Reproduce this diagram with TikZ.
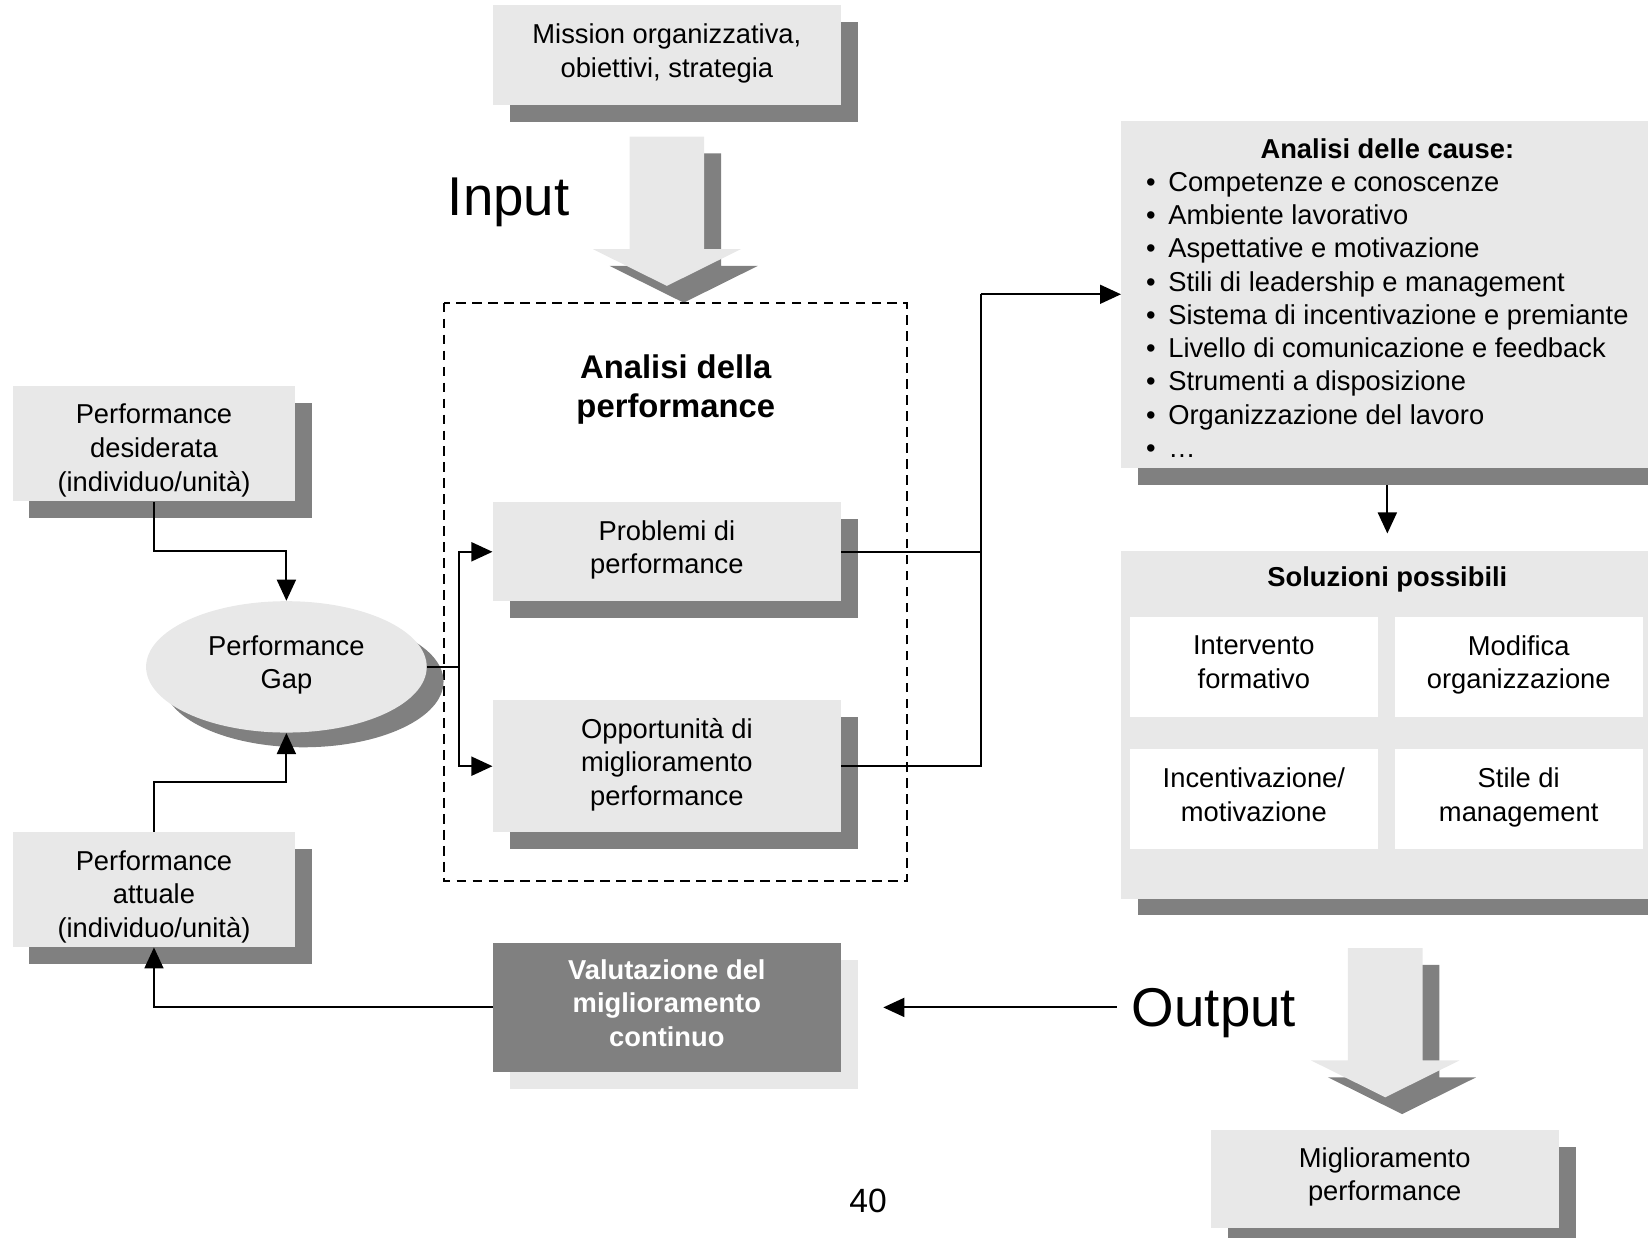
\documentclass[tikz,border=0pt]{standalone}
\usepackage{fontspec}
\setmainfont{Liberation Sans}
\usetikzlibrary{shapes.geometric,arrows.meta,shadows,calc}
\definecolor{boxgray}{HTML}{E8E8E8}
\definecolor{shadegray}{HTML}{808080}

\tikzset{
  base/.style={font=\fontsize{13}{16}\selectfont, align=center, inner sep=0pt},
  % fixed depth below the last line so that the text sits evenly in every box
  evenlines/.style={execute at end node={\rule[-4.4pt]{0pt}{4.4pt}}},
  % extra height above the last line, which lowers three-line texts in their box
  lowlines/.style={execute at begin node={\rule{0pt}{49.7pt}}},
  card/.style={base, evenlines, rectangle, fill=boxgray,
    drop shadow={shadow xshift=8pt, shadow yshift=-8pt, fill=shadegray, opacity=1}},
  darkcard/.style={base, evenlines, rectangle, fill=shadegray, text=white,
    font=\fontsize{13}{16}\selectfont\bfseries,
    drop shadow={shadow xshift=8pt, shadow yshift=-8pt, fill=boxgray, opacity=1}},
  whitecard/.style={base, evenlines, rectangle, fill=white},
  line/.style={line width=0.95pt, black},
  conn/.style={line, -{Triangle[length=10pt,width=9pt]}},
  dashbox/.style={line width=0.95pt, dash pattern=on 4.6pt off 3pt},
  bigword/.style={font=\fontsize{26}{30}\selectfont, inner sep=0pt},
  blockarrow/.pic={
    \fill[shadegray, shift={(16,16)}] (-35.5,0) -- (35.5,0) -- (35.5,107) -- (70.5,107)
      -- (0,142) -- (-70.5,107) -- (-35.5,107) -- cycle;
    \fill[boxgray] (-35.5,0) -- (35.5,0) -- (35.5,107) -- (70.5,107)
      -- (0,142) -- (-70.5,107) -- (-35.5,107) -- cycle;
  },
}

\begin{document}
\begin{tikzpicture}[x=0.5pt,y=-0.5pt]
\useasboundingbox (0,0) rectangle (1568,1177);
\clip (0,0) rectangle (1568,1177);

% wide block arrows for input and output
\pic at (634.5,130) {blockarrow};
\pic at (1318,902) {blockarrow};

% top input box
\node[card, minimum width=165.5pt, minimum height=47.5pt] (mission) at (634.5,52.5)
  {Mission organizzativa,\\obiettivi, strategia};
\node[bigword, anchor=base] (inlabel) at (484,205) {Input};

% performance analysis frame
\draw[dashbox] (422,288) rectangle (863,838);
\node[base, font=\fontsize{15.6}{18.5}\selectfont\bfseries] (anatitle) at (643,371)
  {Analisi della\\performance};
\node[card, minimum width=165.5pt, minimum height=47pt] (prob) at (634.5,525)
  {Problemi di\\performance};
\node[card, minimum width=165.5pt, minimum height=63pt] (opp) at (634.5,729)
  {Opportunità di\\miglioramento\\performance};

% evaluation box
\node[darkcard, minimum width=165.5pt, minimum height=61.5pt] (valut) at (634.5,958.5)
  {Valutazione del\\miglioramento\\continuo};

% left column
\node[card, lowlines, minimum width=134.5pt, minimum height=55pt] (des) at (146.5,422)
  {Performance\\desiderata\\(individuo/unità)};
\node[card, lowlines, minimum width=134.5pt, minimum height=54.5pt] (att) at (146.5,846.5)
  {Performance\\attuale\\(individuo/unità)};
\node[base, evenlines, ellipse, fill=boxgray, minimum width=133.5pt, minimum height=62.5pt,
  drop shadow={shadow xshift=8pt, shadow yshift=-7pt, fill=shadegray, opacity=1}]
  (gap) at (272.5,634.5) {Performance\\Gap};

% causes
\node[base, rectangle, fill=boxgray, minimum width=253pt, minimum height=165pt,
  font=\fontsize{13}{15.8}\selectfont,
  drop shadow={shadow xshift=8pt, shadow yshift=-8pt, fill=shadegray, opacity=1}]
  (cause) at (1320,280) {%
  \raisebox{-3.25pt}[\height][\depth]{%
  \begin{tabular}{@{}l@{\hspace{6pt}}l@{}}
  \multicolumn{2}{c}{\bfseries Analisi delle cause:}\\
  • & Competenze e conoscenze\\
  • & Ambiente lavorativo\\
  • & Aspettative e motivazione\\
  • & Stili di leadership e management\\
  • & Sistema di incentivazione e premiante\\
  • & Livello di comunicazione e feedback\\
  • & Strumenti a disposizione\\
  • & Organizzazione del lavoro\\
  • & …
  \end{tabular}}};

% solutions
\node[card, minimum width=253pt, minimum height=165.5pt] (sol) at (1320,689.5) {};
\node[base, font=\fontsize{13}{16}\selectfont\bfseries] (soltitle) at (1320,551)
  {Soluzioni possibili};
\node[whitecard, minimum width=118pt, minimum height=47.5pt] (s1) at (1193,634.5)
  {Intervento\\formativo};
\node[whitecard, minimum width=118pt, minimum height=47.5pt] (s2) at (1445,634.5)
  {Modifica\\organizzazione};
\node[whitecard, minimum width=118pt, minimum height=47.5pt] (s3) at (1193,760.5)
  {Incentivazione/\\motivazione};
\node[whitecard, minimum width=118pt, minimum height=47.5pt] (s4) at (1445,760.5)
  {Stile di\\management};

% output
\node[card, minimum width=165.5pt, minimum height=46.5pt] (migl) at (1317.5,1121.5)
  {Miglioramento\\performance};
\node[bigword, anchor=base] (outlabel) at (1155,977) {Output};

% page number
\node[base, font=\fontsize{16}{19}\selectfont] (pagenum) at (826,1143) {40};

% connectors
\coordinate (split) at (437,634.5);
\coordinate (bus) at (933,280);
\draw[line] (gap.east) -- (split);
\draw[conn] (split) |- (prob.west);
\draw[conn] (split) |- (opp.west);
\draw[line] (prob.east) -| (bus);
\draw[line] (opp.east) -| (bus);
\draw[conn] (bus) -- (cause.west);
\draw[conn] ([yshift=-8pt]cause.south) -- ([yshift=8pt]sol.north);
\draw[conn] (des.south) |- ($(des.south)!.5!(gap.north)$) -| (gap.north);
\draw[conn] (att.north) |- ($(att.north)!.5!(gap.south)$) -| (gap.south);
\draw[conn] (valut.west) -| (att.south);
\draw[conn] ($(outlabel.west |- valut.east)+(-14,0)$) -- ([xshift=20pt]valut.east);
\end{tikzpicture}
\end{document}
